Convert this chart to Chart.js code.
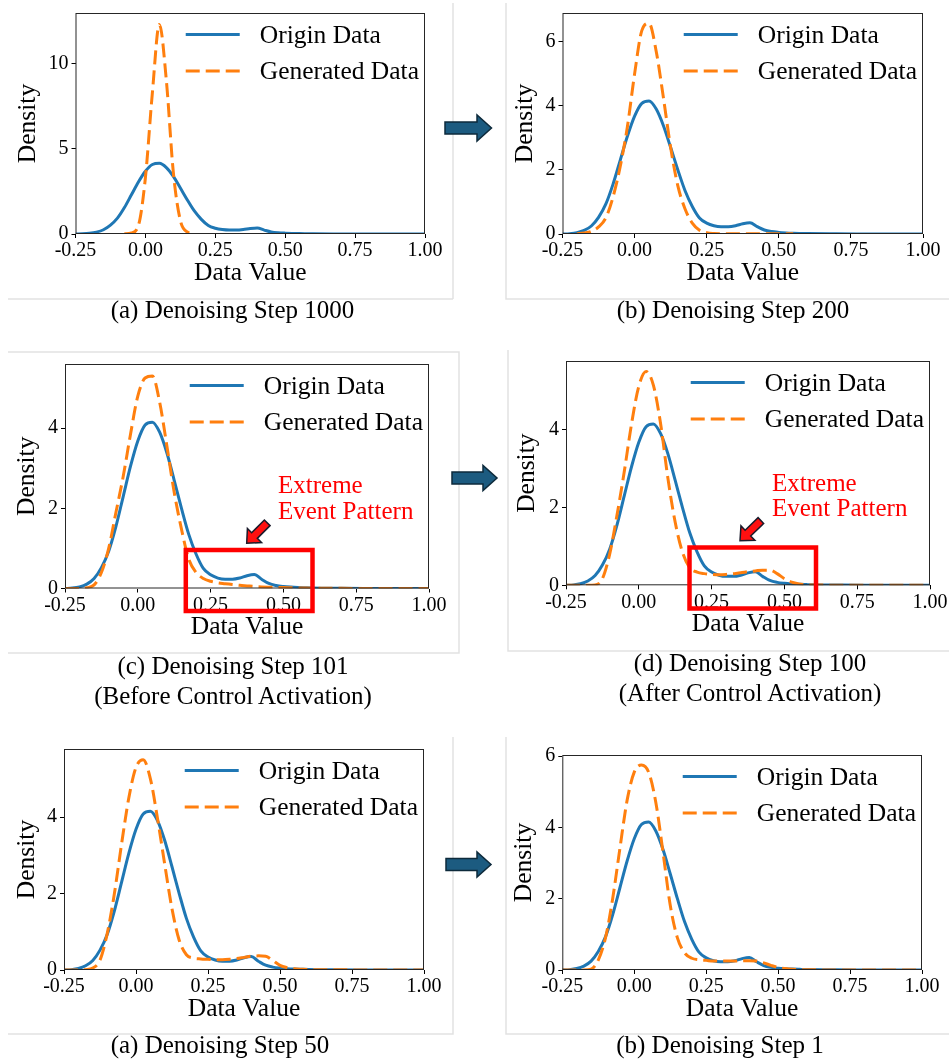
<!DOCTYPE html>
<html>
<head>
<meta charset="utf-8">
<script src="https://cdn.jsdelivr.net/npm/chart.js@4.4.1/dist/chart.umd.min.js"></script>
<style>
  html, body { margin: 0; padding: 0; background: #fff; }
  #fig { position: relative; width: 949px; height: 1061px; overflow: hidden; }
  #fig canvas { position: absolute; }
  #overlay { position: absolute; left: 0; top: 0; }
  #overlay text { font-family: 'Liberation Serif', 'Times New Roman', Times, serif; font-size: 25px; }
</style>
</head>
<body>
<div id="fig">
  <canvas id="c1"></canvas>
  <canvas id="c2"></canvas>
  <canvas id="c3"></canvas>
  <canvas id="c4"></canvas>
  <canvas id="c5"></canvas>
  <canvas id="c6"></canvas>

  <svg id="overlay" width="949" height="1061">
    <!-- light frames of the sub-figures -->
    <g fill="none" stroke="#e2e2e2" stroke-width="1.5">
      <path d="M453,3 V299 M8,299 H453"/>
      <path d="M506,3 V299 H949"/>
      <path d="M8,352 H459 V653 H8"/>
      <path d="M508,350 V651 H949"/>
      <path d="M453,737 V1034 H8"/>
      <path d="M506,737 V1034 H949"/>
    </g>

    <!-- step arrows -->
    <g fill="#1c5b80" stroke="#0d2a3b" stroke-width="1.5">
      <path d="M445,122 H477 V115 L491.5,128 L477,141 V134 H445 Z"/>
      <path d="M452,472 H483 V465.5 L497,478 L483,490.5 V484 H452 Z"/>
      <path d="M446,858.5 H477 V852 L491,864.5 L477,877 V870.5 H446 Z"/>
    </g>

    <!-- extreme event annotations -->
    <g fill="none" stroke="#ff0000" stroke-width="4.5">
      <rect x="185.8" y="550" width="126.7" height="61"/>
      <rect x="689.5" y="547.5" width="126.5" height="61"/>
    </g>
    <g fill="#ff1010" stroke="#1a1a2a" stroke-width="1.5">
      <path transform="translate(246.7,543.3) rotate(135)" d="M-29,-4 H-11 V-10 L0,0 L-11,10 V4 H-29 Z"/>
      <path transform="translate(740,540.7) rotate(136)" d="M-29,-4 H-11 V-10 L0,0 L-11,10 V4 H-29 Z"/>
    </g>
    <g fill="#ff0000">
      <text x="278" y="493">Extreme</text>
      <text x="278" y="519">Event Pattern</text>
      <text x="772" y="490.5">Extreme</text>
      <text x="772" y="515.5">Event Pattern</text>
    </g>

    <!-- captions -->
    <g fill="#000" text-anchor="middle">
      <text x="232.5" y="318">(a) Denoising Step 1000</text>
      <text x="733" y="318">(b) Denoising Step 200</text>
      <text x="233" y="674">(c) Denoising Step 101</text>
      <text x="233" y="704">(Before Control Activation)</text>
      <text x="750" y="671">(d) Denoising Step 100</text>
      <text x="750" y="701">(After Control Activation)</text>
      <text x="220" y="1052.5">(a) Denoising Step 50</text>
      <text x="720" y="1052.5">(b) Denoising Step 1</text>
    </g>
  </svg>
</div>

<script>
const xGrid = [-0.25, -0.225, -0.2, -0.175, -0.15, -0.125, -0.1, -0.075, -0.05, -0.025,
  0, 0.025, 0.05, 0.075, 0.1, 0.125, 0.15, 0.175, 0.2, 0.225,
  0.25, 0.275, 0.3, 0.325, 0.35, 0.375, 0.4, 0.425, 0.45, 0.475,
  0.5, 0.525, 0.55, 0.575, 0.6, 0.7, 0.8, 0.9, 1.0];

// origin data density (same in every panel)
const originData = [0.00, 0.01, 0.04, 0.11, 0.25, 0.52, 0.93, 1.55, 2.30, 3.05,
  3.68, 4.08, 4.15, 3.90, 3.38, 2.70, 2.00, 1.35, 0.86, 0.50,
  0.34, 0.26, 0.23, 0.23, 0.26, 0.32, 0.35, 0.23, 0.125, 0.075,
  0.05, 0.035, 0.025, 0.018, 0.012, 0.005, 0.002, 0, 0];

// generated data density per denoising step
const genStep1000 = [null, null, null, null, null, null, null, 0.01, 0.06, 0.5,
  3.3, 8.3, 12.3, 9.0, 3.6, 0.8, 0.12, 0.01, null, null,
  null, null, null, null, null, null, null, null, null, null,
  null, null, null, null, null, null, null, null, null];

const genStep200 = [null, null, 0.005, 0.03, 0.08, 0.22, 0.50, 1.15, 2.10, 3.35,
  5.00, 6.35, 6.58, 5.70, 4.25, 2.70, 1.50, 0.78, 0.34, 0.12,
  0.04, 0.015, 0.01, 0.01, 0.01, 0.01, 0.01, 0.01, 0.01, 0.01,
  0.01, 0.01, 0.01, null, null, null, null, null, null];

const genStep101 = [0, 0, 0, 0.02, 0.09, 0.40, 1.00, 1.90, 2.80, 3.85,
  4.80, 5.25, 5.30, 4.65, 3.55, 2.40, 1.48, 0.73, 0.40, 0.25,
  0.18, 0.14, 0.12, 0.10, 0.08, 0.065, 0.05, 0.04, 0.033, 0.027,
  0.022, 0.018, 0.014, 0.01, 0.008, 0.004, 0.002, 0.001, 0];

const genStep100 = [0, 0, 0, 0, 0.01, 0.17, 0.80, 1.80, 2.92, 4.15,
  5.12, 5.50, 5.15, 4.15, 2.75, 1.62, 0.85, 0.45, 0.34, 0.30,
  0.28, 0.27, 0.28, 0.30, 0.32, 0.35, 0.37, 0.39, 0.39, 0.30,
  0.17, 0.08, 0.035, 0.015, 0.008, 0.003, 0.001, 0, 0];

const genStep50 = [0, 0, 0, 0.01, 0.05, 0.26, 0.95, 2.00, 3.30, 4.50,
  5.30, 5.50, 5.00, 3.95, 2.75, 1.60, 0.78, 0.40, 0.31, 0.29,
  0.28, 0.27, 0.27, 0.28, 0.30, 0.33, 0.36, 0.37, 0.36, 0.25,
  0.12, 0.06, 0.03, 0.02, 0.012, 0.005, 0.002, 0.001, 0];

const genStep1 = [0, 0, 0, 0, 0.02, 0.28, 0.90, 2.00, 3.40, 4.75,
  5.55, 5.75, 5.55, 4.70, 3.30, 1.82, 0.90, 0.48, 0.33, 0.29,
  0.27, 0.25, 0.25, 0.25, 0.25, 0.26, 0.26, 0.25, 0.20, 0.13,
  0.07, 0.04, 0.02, 0.01, 0.006, 0.002, 0.001, 0, 0];

const xTicks = [-0.25, 0, 0.25, 0.5, 0.75, 1.0];
const yTicksWide = [0, 5, 10];
const yTicksSix = [0, 2, 4, 6];
const yTicksFour = [0, 2, 4];
const legendLabels = ['Origin Data', 'Generated Data'];

const FONT = "'Liberation Serif', 'Times New Roman', Times, serif";
const BLUE = '#1f77b4';
const ORANGE = '#ff7f0e';

Chart.defaults.font.family = FONT;
Chart.defaults.color = '#000';

// plot = [left, top, right, bottom] of the axes box on the page
const panels = [
  { id: 'c1', gen: genStep1000, yMax: 12.97, yTicks: yTicksWide, plot: [75, 13, 424, 234], densityX: 27.5, valueY: 274 },
  { id: 'c2', gen: genStep200, yMax: 6.9, yTicks: yTicksSix, plot: [562, 13, 922, 234], densityX: 524.5, valueY: 274 },
  { id: 'c3', gen: genStep101, yMax: 5.6, yTicks: yTicksFour, plot: [65, 364, 429, 588], densityX: 27, valueY: 627.5 },
  { id: 'c4', gen: genStep100, yMax: 5.77, yTicks: yTicksFour, plot: [566, 361, 930, 585], densityX: 527, valueY: 624.7 },
  { id: 'c5', gen: genStep50, yMax: 5.78, yTicks: yTicksFour, plot: [64, 749, 424, 970], densityX: 27, valueY: 1010 },
  { id: 'c6', gen: genStep1, yMax: 6.03, yTicks: yTicksSix, plot: [562, 755, 922, 970], densityX: 523.7, valueY: 1010 }
];

// axes box + matplotlib-like legend inside the plot
const mplFrame = {
  id: 'mplFrame',
  afterDatasetsDraw(chart) {
    const { ctx, chartArea: a } = chart;
    ctx.save();
    ctx.strokeStyle = '#262626';
    ctx.lineWidth = 1;
    ctx.strokeRect(a.left + 0.5, a.top + 0.5, a.right - a.left - 1, a.bottom - a.top - 1);

    ctx.font = '25.5px ' + FONT;
    ctx.textBaseline = 'middle';
    const maxW = Math.max(...legendLabels.map(t => ctx.measureText(t).width));
    const textX = a.right - 6 - maxW;
    chart.data.datasets.forEach((ds, i) => {
      const y = a.top + 21.5 + i * 36.5;
      ctx.beginPath();
      ctx.setLineDash(ds.borderDash || []);
      ctx.strokeStyle = ds.borderColor;
      ctx.lineWidth = ds.borderWidth;
      ctx.moveTo(textX - 74, y);
      ctx.lineTo(textX - 20, y);
      ctx.stroke();
      ctx.setLineDash([]);
      ctx.fillStyle = '#000';
      ctx.fillText(ds.label, textX, y + 1.5);
    });
    ctx.restore();
  }
};

function makeChart(p) {
  const canvas = document.getElementById(p.id);
  const [l, t, r, b] = p.plot;
  const left = p.densityX - 15;
  const top = t - 15;
  const w = Math.round(r + 22 - left);
  const h = Math.round(p.valueY + 15 - top);
  canvas.width = w;
  canvas.height = h;
  canvas.style.left = left + 'px';
  canvas.style.top = top + 'px';
  canvas.style.width = w + 'px';
  canvas.style.height = h + 'px';

  new Chart(canvas, {
    type: 'line',
    data: {
      datasets: [
        {
          label: legendLabels[0],
          data: xGrid.map((x, i) => ({ x: x, y: originData[i] })),
          borderColor: BLUE,
          borderWidth: 3,
          order: 1
        },
        {
          label: legendLabels[1],
          data: xGrid.map((x, i) => ({ x: x, y: p.gen[i] })),
          borderColor: ORANGE,
          borderWidth: 3,
          borderDash: [14, 6],
          order: 0
        }
      ]
    },
    options: {
      responsive: false,
      animation: false,
      devicePixelRatio: 1,
      layout: { padding: { left: 0, top: 15, right: 22, bottom: 0 } },
      elements: {
        point: { radius: 0 },
        line: { cubicInterpolationMode: 'monotone', fill: false }
      },
      plugins: { legend: { display: false }, tooltip: { enabled: false } },
      scales: {
        x: {
          type: 'linear',
          min: -0.25,
          max: 1.0,
          afterBuildTicks: s => { s.ticks = xTicks.map(v => ({ value: v })); },
          afterFit: s => { s.height = p.valueY + 15 - b; },
          ticks: { font: { size: 20 }, color: '#000', padding: 1, maxRotation: 0, autoSkip: false,
                   callback: v => v.toFixed(2) },
          grid: { drawOnChartArea: false, tickLength: 4, color: '#000' },
          border: { display: false },
          title: { display: true, text: 'Data Value', font: { size: 25.5 }, color: '#000', padding: 0 }
        },
        y: {
          min: 0,
          max: p.yMax,
          afterBuildTicks: s => { s.ticks = p.yTicks.map(v => ({ value: v })); },
          afterFit: s => { s.width = l - left; },
          ticks: { font: { size: 20 }, color: '#000', padding: 3, callback: v => String(v) },
          grid: { drawOnChartArea: false, tickLength: 4, color: '#000' },
          border: { display: false },
          title: { display: true, text: 'Density', font: { size: 25.5 }, color: '#000', padding: 0 }
        }
      }
    },
    plugins: [mplFrame]
  });
}

panels.forEach(makeChart);
</script>
</body>
</html>
